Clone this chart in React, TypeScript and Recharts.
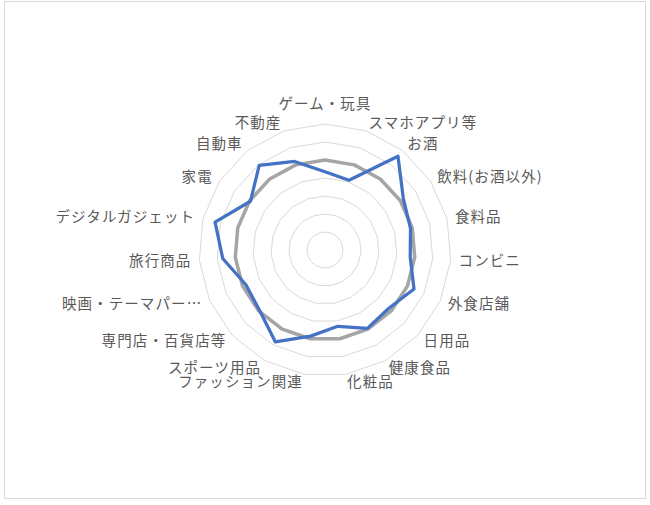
import React from 'react';
import { RadarChart, Radar, PolarGrid, PolarAngleAxis, PolarRadiusAxis } from 'recharts';

const categories = [
  'ゲーム・玩具', 'スマホアプリ等', 'お酒', '飲料(お酒以外)', '食料品', 'コンビニ', '外食店舗', '日用品',
  '健康食品', '化粧品', 'ファッション関連', 'スポーツ用品', '専門店・百貨店等', '映画・テーマパー…',
  '旅行商品', 'デジタルガジェット', '家電', '自動車', '不動産',
];
const targetValues = [87, 82, 132, 104, 98, 95, 108, 96, 99, 86, 97, 116, 99, 96, 114, 126, 99, 119, 104];
const averageValues = [100, 100, 100, 100, 100, 100, 100, 100, 100, 100, 100, 100, 100, 100, 100, 100, 100, 100, 100];
const radiusTicks = [0, 20, 40, 60, 80, 100, 120, 140];

const data = categories.map((name, i) => ({ name, target: targetValues[i], average: averageValues[i] }));

const CX = 325;
const CY = 250;
const OUTER = 126;

function AngleTick(props: any) {
  const { x, y, textAnchor, payload } = props;
  let yy = y;
  if (textAnchor === 'middle' && y < CY) yy = y - 12.5;
  return (
    <text
      x={x}
      y={yy}
      dy="0.36em"
      textAnchor={textAnchor}
      fill="#595959"
      fontSize={14.5}
      letterSpacing={1.1}
      fontFamily='"Noto Sans CJK JP", "Noto Sans", sans-serif'
    >
      {payload.value}
    </text>
  );
}

export default function App() {
  return (
    <div style={{ position: 'absolute', left: 0, top: 0, width: 650, height: 505, background: '#fff' }}>
      <div
        style={{
          position: 'absolute', left: 4, top: 1, width: 642, height: 498,
          border: '1px solid #D9D9D9', boxSizing: 'border-box',
        }}
      />
      <div style={{ position: 'absolute', left: 0, top: 0 }}>
        <RadarChart
          width={650}
          height={505}
          cx={CX}
          cy={CY}
          outerRadius={OUTER}
          data={data}
          startAngle={90}
          endAngle={-270}
        >
          <PolarGrid gridType="polygon" radialLines={false} stroke="#D9D9D9" strokeWidth={1} />
          <PolarAngleAxis dataKey="name" tick={<AngleTick />} tickLine={false} axisLine={false} />
          <PolarRadiusAxis
            domain={[0, 140]}
            ticks={radiusTicks as any}
            tickCount={8}
            tick={false}
            axisLine={false}
            angle={90}
          />
          <Radar
            name="平均"
            dataKey="average"
            stroke="#A5A5A5"
            strokeWidth={3.5}
            strokeLinejoin="round"
            fill="none"
            fillOpacity={0}
            dot={false}
            isAnimationActive={false}
          />
          <Radar
            name="対象"
            dataKey="target"
            stroke="#4472C4"
            strokeWidth={3.25}
            strokeLinejoin="round"
            fill="none"
            fillOpacity={0}
            dot={false}
            isAnimationActive={false}
          />
        </RadarChart>
      </div>
    </div>
  );
}
